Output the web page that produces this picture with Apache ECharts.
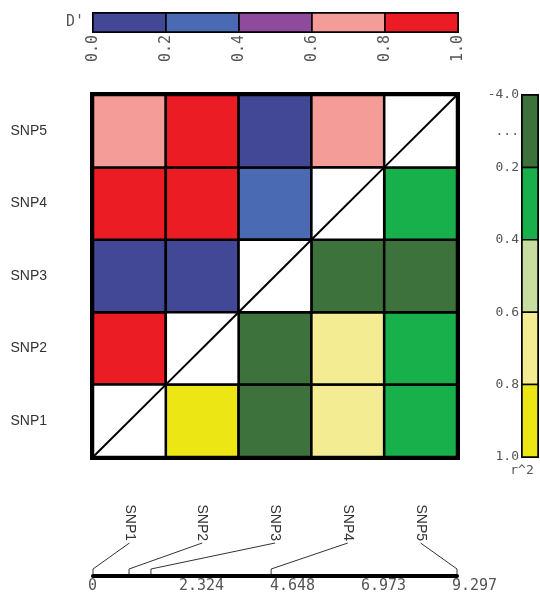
<!DOCTYPE html>
<html><head><meta charset="utf-8">
<script src="https://cdn.jsdelivr.net/npm/echarts@6/dist/echarts.min.js"></script>
<style>html,body{margin:0;padding:0;background:#fff}#c{width:540px;height:593px}</style>
</head><body><div id="c"></div>
<script>
const snps = ['SNP1','SNP2','SNP3','SNP4','SNP5'];
const positions = [0, 0.92, 1.48, 4.55, 9.297];
const mapTicks = ['0','2.324','4.648','6.973','9.297'];
const mapMax = 9.297;
// pairs [i, j, value] (0-based SNP indices)
const dPrime = [[0,1,0.95],[0,2,0.10],[0,3,0.90],[0,4,0.70],[1,2,0.10],[1,3,0.90],[1,4,0.90],[2,3,0.30],[2,4,0.10],[3,4,0.70]];
const r2 = [[0,1,0.90],[0,2,0.05],[0,3,0.70],[0,4,0.30],[1,2,0.05],[1,3,0.70],[1,4,0.30],[2,3,0.05],[2,4,0.05],[3,4,0.30]];
const dBreaks = [0,0.2,0.4,0.6,0.8,1.0];
const dColors = ['#434896','#4a6bb3','#8e4b9b','#f49c97','#ec1c24'];
const rBreaks = [-4.0,0.2,0.4,0.6,0.8,1.0];
const rTickLabels = ['-4.0','0.2','0.4','0.6','0.8','1.0'];
const rColors = ['#3e723c','#17b04b','#c8dea0','#f3ec93','#ece615'];

const MONO = "'DejaVu Sans Mono', monospace";
const SANS = "'Liberation Sans', Arial, sans-serif";

function binColor(v, breaks, colors){
  let k = 0;
  for (let i = 0; i < colors.length; i++) if (v >= breaks[i]) k = i;
  return colors[k];
}

const cells = [];
dPrime.forEach(([i,j,v]) => cells.push([i, j, v, 0]));
r2.forEach(([i,j,v]) => cells.push([j, i, v, 1]));
snps.forEach((s,k) => cells.push([k, k, 0, 2]));

function renderCell(params, api){
  const x = api.value(0), y = api.value(1), kind = api.value(3);
  const c = api.coord([x, y]); const s = api.size([1, 1]);
  const rect = {x: c[0]-s[0]/2, y: c[1]-s[1]/2, width: s[0], height: s[1]};
  if (kind === 2) {
    return {type:'group', children:[
      {type:'rect', shape: rect, style:{fill:'#fff', stroke:'#000', lineWidth:2.5}},
      {type:'line', shape:{x1:rect.x, y1:rect.y+rect.height, x2:rect.x+rect.width, y2:rect.y}, style:{stroke:'#000', lineWidth:2}}
    ]};
  }
  const v = api.value(2);
  const fill = kind === 0 ? binColor(v, dBreaks, dColors) : binColor(v, rBreaks, rColors);
  return {type:'rect', shape: rect, style:{fill: fill, stroke:'#000', lineWidth:2.5}};
}

const dLegend = dColors.map((c,k) => [dBreaks[k], dBreaks[k+1], k]);
const rLegend = rColors.map((c,k) => [k]);
const snpLinks = positions.map((p,k) => [p, k]);

const chart = echarts.init(document.getElementById('c'), null, {renderer:'canvas'});
chart.setOption({
  backgroundColor:'#fff',
  animation:false,
  grid:[
    {left:93, top:95, width:364, height:362, show:true, borderColor:'#000', borderWidth:6, backgroundColor:'transparent', outerBoundsMode:'none'},
    {left:93, top:13, width:365, height:19, show:true, borderColor:'#000', borderWidth:2, backgroundColor:'transparent', outerBoundsMode:'none'},
    {left:522, top:95, width:16, height:362, show:true, borderColor:'#000', borderWidth:2, backgroundColor:'transparent', outerBoundsMode:'none'},
    {left:93, top:543, width:364, height:33, outerBoundsMode:'none'}
  ],
  xAxis:[
    {gridIndex:0, type:'category', data:snps, axisLine:{show:false}, axisTick:{show:false}, axisLabel:{show:false}, splitLine:{show:false}},
    {gridIndex:1, type:'value', min:0, max:1, interval:0.2, axisLine:{show:false}, axisTick:{show:false}, splitLine:{show:false},
     axisLabel:{rotate:90, margin:3, color:'#555', fontFamily:MONO, fontSize:15, formatter:(v)=>v.toFixed(1)}},
    {gridIndex:2, type:'value', min:0, max:1, show:false},
    {gridIndex:3, type:'value', min:0, max:mapMax, interval:mapMax/4, position:'bottom',
     axisLine:{show:true, lineStyle:{color:'#000', width:4}}, axisTick:{show:false}, splitLine:{show:false},
     axisLabel:{align:'left', margin:3, padding:[0,0,0,-5], color:'#555', fontFamily:MONO, fontSize:15, showMaxLabel:true,
       formatter:(v)=>mapTicks[Math.round(v/(mapMax/4))]}},
    {gridIndex:3, type:'category', data:snps, position:'top', axisLine:{show:false}, axisTick:{show:false},
     axisLabel:{rotate:90, margin:2, color:'#333', fontFamily:SANS, fontSize:14}}
  ],
  yAxis:[
    {gridIndex:0, type:'category', data:snps, axisLine:{show:false}, axisTick:{show:false}, splitLine:{show:false},
     axisLabel:{margin:46, color:'#333', fontFamily:SANS, fontSize:14}},
    {gridIndex:1, type:'category', data:["D'"], axisLine:{show:false}, axisTick:{show:false},
     axisLabel:{margin:9, color:'#555', fontFamily:MONO, fontSize:15}},
    {gridIndex:2, type:'value', min:0, max:5, interval:0.5, inverse:true, axisLine:{show:false}, axisTick:{show:false}, splitLine:{show:false},
     axisLabel:{margin:3, color:'#555', fontFamily:MONO, fontSize:13, showMaxLabel:true, showMinLabel:true,
       formatter:(v)=>{const k=Math.round(v*2); if(k%2===0) return rTickLabels[k/2]; if(k===1) return '...'; return '';}},
     name:'r^2', nameLocation:'end', nameGap:7, nameTextStyle:{color:'#555', fontFamily:MONO, fontSize:13}},
    {gridIndex:3, type:'value', min:0, max:1, show:false}
  ],
  series:[
    {type:'custom', xAxisIndex:0, yAxisIndex:0, data:cells, renderItem:renderCell, z:3},
    {type:'custom', xAxisIndex:1, yAxisIndex:1, data:dLegend, z:3,
     renderItem:(params, api)=>{
       const a = api.coord([api.value(0), 0]), b = api.coord([api.value(1), 0]);
       const h = api.size([0, 1])[1];
       return {type:'rect', shape:{x:a[0], y:a[1]-h/2, width:b[0]-a[0], height:h},
               style:{fill:dColors[api.value(2)], stroke:'#000', lineWidth:1.5}};
     }},
    {type:'custom', xAxisIndex:2, yAxisIndex:2, data:rLegend, z:3,
     renderItem:(params, api)=>{
       const k = api.value(0);
       const a = api.coord([0, k]), b = api.coord([1, k+1]);
       return {type:'rect', shape:{x:a[0], y:Math.min(a[1],b[1]), width:b[0]-a[0], height:Math.abs(b[1]-a[1])},
               style:{fill:rColors[k], stroke:'#000', lineWidth:1.5}};
     }},
    {type:'custom', xAxisIndex:3, yAxisIndex:3, data:snpLinks, z:3, clip:false,
     renderItem:(params, api)=>{
       const p = api.coord([api.value(0), 0]);
       const q = api.coord([(api.value(1)+0.5)*mapMax/5, 1]);
       return {type:'polyline', shape:{points:[[p[0], p[1]-2],[p[0], p[1]-7],[q[0], q[1]]]},
               style:{stroke:'#333', lineWidth:1, fill:null}};
     }}
  ]
});
</script></body></html>
